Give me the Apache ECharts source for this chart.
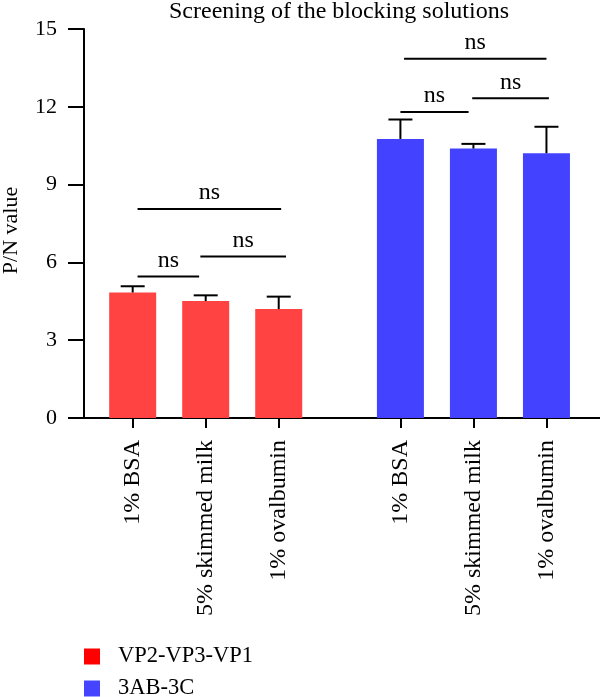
<!DOCTYPE html>
<html>
<head>
<meta charset="utf-8">
<script src="https://cdn.jsdelivr.net/npm/echarts@6/dist/echarts.min.js"></script>
<style>
  html, body { margin: 0; padding: 0; background: #fff; }
  #chart { width: 600px; height: 697px; }
</style>
</head>
<body>
<div id="chart"></div>
<script>
// categories, positions on the x value axis (slot units)
var labels = ['1% BSA', '5% skimmed milk', '1% ovalbumin', '1% BSA', '5% skimmed milk', '1% ovalbumin'];
var redPos = [0, 3, 6];
var bluePos = [11, 14, 17];
var tickPos = redPos.concat(bluePos);

// means and SD
var redMean = [4.84, 4.51, 4.20];
var redSd = [0.24, 0.22, 0.48];
var blueMean = [10.76, 10.39, 10.21];
var blueSd = [0.75, 0.18, 1.02];

// significance brackets: [xStart, xEnd, y, label]
var brackets = [
    [0.2, 2.73, 5.46, 'ns'],
    [2.78, 6.3, 6.23, 'ns'],
    [0.2, 6.1, 8.06, 'ns'],
    [11.0, 13.8, 11.8, 'ns'],
    [13.95, 17.1, 12.33, 'ns'],
    [11.15, 17.0, 13.85, 'ns']
];

var font = 'Liberation Serif';

function toPairs(pos, vals) {
    var out = [];
    for (var i = 0; i < pos.length; i++) out.push([pos[i], vals[i]]);
    return out;
}
function toErr(pos, mean, sd) {
    var out = [];
    for (var i = 0; i < pos.length; i++) out.push([pos[i], mean[i], mean[i] + sd[i]]);
    return out;
}

function renderErr(params, api) {
    var bottom = api.coord([api.value(0), api.value(1)]);
    var top = api.coord([api.value(0), api.value(2)]);
    var style = { stroke: '#000', lineWidth: 2 };
    return {
        type: 'group',
        children: [
            { type: 'line', shape: { x1: top[0], y1: bottom[1], x2: top[0], y2: top[1] }, style: style },
            { type: 'line', shape: { x1: top[0] - 12, y1: top[1], x2: top[0] + 12, y2: top[1] }, style: style }
        ]
    };
}

function renderBracket(params, api) {
    var a = api.coord([api.value(0), api.value(2)]);
    var b = api.coord([api.value(1), api.value(2)]);
    return {
        type: 'group',
        children: [
            { type: 'line', shape: { x1: a[0], y1: a[1], x2: b[0], y2: b[1] }, style: { stroke: '#000', lineWidth: 2 } },
            { type: 'text', x: (a[0] + b[0]) / 2, y: a[1] - 4,
              style: { text: brackets[params.dataIndex][3], fill: '#000', font: '24px "' + font + '"', align: 'center', verticalAlign: 'bottom' } }
        ]
    };
}

function legendFor(name, color, top) {
    return {
        left: 84,
        top: top,
        padding: 0,
        icon: 'rect',
        itemWidth: 16,
        itemHeight: 16,
        textStyle: { fontFamily: font, fontSize: 22.5, color: '#000', padding: [0, 0, 0, 13] },
        data: [{ name: name, itemStyle: { color: color } }]
    };
}

var chart = echarts.init(document.getElementById('chart'));

var option = {
    animation: false,
    textStyle: { fontFamily: font, color: '#000' },
    title: {
        text: 'Screening of the blocking solutions',
        left: 334,
        top: -5,
        textAlign: 'center',
        textStyle: { fontFamily: font, fontSize: 24, fontWeight: 'normal', color: '#000' }
    },
    legend: [
        legendFor('VP2-VP3-VP1', '#ff0000', 645),
        legendFor('3AB-3C', '#4545ff', 677)
    ],
    grid: { left: 84, right: 0, top: 29, bottom: 279, containLabel: false, outerBoundsMode: 'none' },
    xAxis: {
        type: 'value',
        min: -2,
        max: 19.2,
        splitLine: { show: false },
        axisLine: { show: true, lineStyle: { color: '#000', width: 2 } },
        axisTick: { show: true, length: 10, lineStyle: { color: '#000', width: 2 }, customValues: tickPos },
        axisLabel: {
            customValues: tickPos,
            rotate: 90,
            margin: 22,
            fontFamily: font,
            fontSize: 24,
            color: '#000',
            formatter: function (v) { return labels[tickPos.indexOf(v)]; }
        }
    },
    yAxis: {
        type: 'value',
        min: 0,
        max: 15,
        interval: 3,
        name: 'P/N value',
        nameLocation: 'middle',
        nameGap: 62,
        nameTextStyle: { fontFamily: font, fontSize: 22, color: '#000', padding: [0, 14, 0, 0] },
        splitLine: { show: false },
        axisLine: { show: true, onZero: false, lineStyle: { color: '#000', width: 2 } },
        axisTick: { show: true, length: 16, lineStyle: { color: '#000', width: 2 } },
        axisLabel: { margin: 27, fontFamily: font, fontSize: 22, color: '#000' }
    },
    series: [
        {
            name: 'VP2-VP3-VP1',
            type: 'bar',
            barWidth: 47,
            barGap: '-100%',
            itemStyle: { color: '#ff4242' },
            data: toPairs(redPos, redMean)
        },
        {
            name: '3AB-3C',
            type: 'bar',
            barWidth: 47,
            barGap: '-100%',
            itemStyle: { color: '#4242ff' },
            data: toPairs(bluePos, blueMean)
        },
        {
            name: 'err',
            type: 'custom',
            renderItem: renderErr,
            data: toErr(redPos, redMean, redSd).concat(toErr(bluePos, blueMean, blueSd)),
            z: 3
        },
        {
            name: 'brackets',
            type: 'custom',
            renderItem: renderBracket,
            data: brackets.map(function (b) { return [b[0], b[1], b[2]]; }),
            z: 3
        }
    ]
};

chart.setOption(option);
</script>
</body>
</html>
